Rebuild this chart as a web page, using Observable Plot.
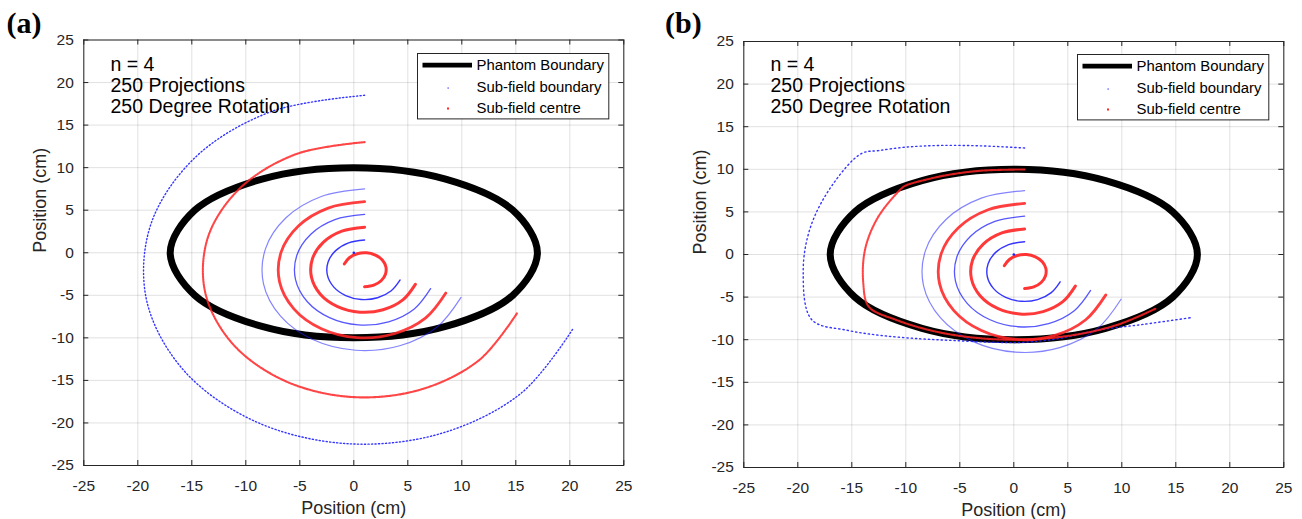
<!DOCTYPE html>
<html><head><meta charset="utf-8">
<script src="https://cdn.jsdelivr.net/npm/d3@7"></script>
<script src="https://cdn.jsdelivr.net/npm/@observablehq/plot@0.6"></script>
<style>
body{margin:0;background:#fff;}
#row{display:flex;width:1302px;height:519px;}
.panel{position:relative;width:651px;height:519px;flex:none;}
.panel svg{display:block;}
svg.legend{position:absolute;}
</style></head><body>
<div id="row"><div class="panel" id="pa"></div><div class="panel" id="pb"></div></div>
<script>
// ---- tick values & texts ----
const xTicks = [-25,-20,-15,-10,-5,0,5,10,15,20,25];
const yTicks = [-25,-20,-15,-10,-5,0,5,10,15,20,25];
const annotLines = ["n = 4", "250 Projections", "250 Degree Rotation"];
const legendLabels = ["Phantom Boundary", "Sub-field boundary", "Sub-field centre"];
const panelLabels = ["(a)", "(b)"];
const axisTitle = "Position (cm)";

// ---- phantom boundary (ellipse) points ----
const ellipsePts = [[17,0],[14.72,5],[8.5,8.66],[0,10],[-8.5,8.66],[-14.72,5],[-17,0],[-14.72,-5],[-8.5,-8.66],[0,-10],[8.5,-8.66],[14.72,-5]];

// ---- sub-field arcs (shared by both panels) ----
const redArc2   = [[-0.88,-1.32],[-0.41,-0.59],[0.32,-0.12],[1.17,-0.01],[2.0,-0.27],[2.64,-0.85],[2.97,-1.65],[2.93,-2.52],[2.53,-3.29],[1.85,-3.81],[1.0,-4.0]];
const blueArc35 = [[1,1.5],[-0.48,1.17],[-1.68,0.25],[-2.38,-1.09],[-2.45,-2.61],[-1.87,-4.01],[-0.75,-5.03],[0.69,-5.49],[2.2,-5.29],[3.47,-4.47],[4.29,-3.2]];
const redArc5   = [[1,3],[-1.11,2.53],[-2.83,1.21],[-3.83,-0.71],[-3.92,-2.87],[-3.1,-4.87],[-1.5,-6.33],[0.56,-6.98],[2.71,-6.7],[4.54,-5.54],[5.7,-3.71]];
const blueArc65 = [[1,4.5],[-1.75,3.89],[-3.98,2.18],[-5.28,-0.32],[-5.4,-3.13],[-4.32,-5.73],[-2.25,-7.63],[0.43,-8.48],[3.22,-8.11],[5.6,-6.6],[7.11,-4.22]];
const redArc8   = [[1,6],[-2.38,5.25],[-5.13,3.14],[-6.73,0.07],[-6.88,-3.39],[-5.55,-6.59],[-3,-8.93],[0.3,-9.97],[3.74,-9.52],[6.66,-7.66],[8.52,-4.74]];
const blueArc95 = [[1,7.5],[-3.01,6.61],[-6.28,4.11],[-8.18,0.46],[-8.36,-3.65],[-6.78,-7.45],[-3.75,-10.23],[0.17,-11.46],[4.25,-10.93],[7.72,-8.72],[9.93,-5.25]];
const blueMarks = [[0,0]];

// ---- outer arcs, panel (a) ----
const redArc15A   = [[1,13],[-5.34,11.59],[-10.49,7.64],[-13.49,1.88],[-13.77,-4.6],[-11.29,-10.6],[-6.5,-14.99],[-0.31,-16.94],[6.13,-16.1],[11.61,-12.61],[15.1,-7.13]];
const blueArc205A = [[1,18.5],[-7.66,16.58],[-14.7,11.18],[-18.8,3.31],[-19.19,-5.56],[-15.79,-13.76],[-9.25,-19.75],[-0.79,-22.42],[8.01,-21.26],[15.5,-16.5],[20.26,-9.01]];

// ---- outer arcs, panel (b) ----
const redOuterB  = [[1,9.98],[-3,9.84],[-6,9.36],[-8,8.82],[-10.03,8.08],[-10.49,7.64],[-12.59,4.34],[-13.77,0.6],[-13.94,-3.31],[-13.42,-6.13],[-10.93,-7.66],[-7.18,-9.06],[-2.95,-9.85],[1.48,-9.96],[5.81,-9.4],[9.75,-8.19],[13.12,-6.36]];
const blueOuterB = [[1,12.5],[-3,12.75],[-6.8,12.8],[-10,12.6],[-12.5,12.2],[-14.11,11.85],[-16.75,8.25],[-18.8,3.31],[-19.5,-2],[-18.71,-7.65],[-15.4,-8.9],[-12.3,-9.5],[-8.6,-9.9],[-5.5,-10.1],[-2,-10.3],[1,-10.3],[4.5,-9.8],[7.7,-8.9],[12,-8.2],[16.35,-7.42]];

const BLUE = "#1f1fff", RED = "#ff2424";
const FONT = "Liberation Sans, Arial, Helvetica, sans-serif";

function innerSeries() {
  return [
    {data: blueArc35, color: BLUE, w: 1.4, o: 0.9},
    {data: blueArc65, color: BLUE, w: 1.3, o: 0.75},
    {data: blueArc95, color: BLUE, w: 1.2, o: 0.55},
    {data: redArc2, color: RED, w: 3, o: 0.92},
    {data: redArc5, color: RED, w: 3, o: 0.9},
    {data: redArc8, color: RED, w: 2.8, o: 0.88}
  ];
}

function makePanel(el, P) {
  const W = 651, H = 519;
  const fw = W - P.ml - P.mr, fh = H - P.mt - P.mb;
  const X = d => d[0], Y = d => d[1];
  const marks = [
    Plot.gridX(xTicks, {stroke: "#000", strokeOpacity: 0.12}),
    Plot.gridY(yTicks, {stroke: "#000", strokeOpacity: 0.12}),
    Plot.line(ellipsePts, {x: X, y: Y, curve: "catmull-rom-closed", stroke: "#000", strokeWidth: 7})
  ];
  const blues = P.series.filter(s => s.color === BLUE), reds = P.series.filter(s => s.color === RED);
  for (const s of [...blues, ...reds]) {
    marks.push(Plot.line(s.data, {x: X, y: Y, curve: "catmull-rom", stroke: s.color, strokeWidth: s.w, strokeOpacity: s.o, strokeDasharray: s.dash}));
  }
  marks.push(Plot.dot(blueMarks, {x: X, y: Y, r: 1.3, fill: BLUE, stroke: null}));
  marks.push(Plot.frame({stroke: "#262626", strokeWidth: 1}));
  const tk = {stroke: "#262626", strokeWidth: 1};
  marks.push(
    Plot.ruleX(xTicks, {...tk, insetTop: fh - 5}),
    Plot.ruleX(xTicks, {...tk, insetBottom: fh - 5}),
    Plot.ruleY(yTicks, {...tk, insetRight: fw - 5}),
    Plot.ruleY(yTicks, {...tk, insetLeft: fw - 5})
  );
  marks.push(
    Plot.axisX({ticks: xTicks, anchor: "bottom", tickSize: 0, tickPadding: 14.2, fontSize: 15.5, tickFormat: d => String(d), label: null, fill: "#262626"}),
    Plot.axisY({ticks: yTicks, anchor: "left", tickSize: 0, tickPadding: 10, fontSize: 15.5, tickFormat: d => String(d), label: null, fill: "#262626"}),
    Plot.text([axisTitle], {text: d => d, frameAnchor: "bottom", dy: 48.5, lineAnchor: "bottom", fontSize: 18, fill: "#262626"}),
    Plot.text([axisTitle], {text: d => d, frameAnchor: "left", rotate: -90, dx: -38, lineAnchor: "bottom", fontSize: 18, fill: "#262626"}),
    Plot.text([annotLines.join("\n")], {text: d => d, frameAnchor: "top-left", textAnchor: "start", lineAnchor: "top", dx: 26.7, dy: P.mt === 39.5 ? 15.7 : 14.2, fontSize: 19.5, lineHeight: 1.077, fill: "#000"}),
    Plot.text([P.label], {text: d => d, frameAnchor: "top-left", textAnchor: "start", lineAnchor: "bottom", dx: P.labelDx, dy: P.labelDy, fontSize: 30, fontWeight: "bold", fontFamily: "Liberation Serif, Times New Roman, serif", fill: "#000"})
  );
  const svg = Plot.plot({
    width: W, height: H,
    marginLeft: P.ml, marginRight: P.mr, marginTop: P.mt, marginBottom: P.mb,
    x: {domain: [-25, 25]}, y: {domain: [-25, 25]},
    style: {fontFamily: FONT, fontSize: "15px", background: "transparent", color: "#262626"},
    marks
  });
  el.appendChild(svg);
  // legend box
  const L = P.ml + 334.4, T = P.mt + 13.8;
  el.insertAdjacentHTML("beforeend",
    `<svg class="legend" width="194" height="68" style="left:${L - 0.5}px;top:${T - 0.5}px;font-family:${FONT};font-size:14.9px">
      <rect x="0.5" y="0.5" width="191.3" height="65.4" fill="#fff" stroke="#262626" stroke-width="1"/>
      <line x1="5.5" x2="55" y1="12.2" y2="12.2" stroke="#000" stroke-width="4.7"/>
      <rect x="30.5" y="34.4" width="1.3" height="1.3" fill="${BLUE}" fill-opacity="0.8"/>
      <rect x="30" y="54.5" width="2" height="2" fill="${RED}"/>
      <text x="59.5" y="16.6" fill="#000">${legendLabels[0]}</text>
      <text x="59.5" y="39" fill="#000">${legendLabels[1]}</text>
      <text x="59.5" y="60" fill="#000">${legendLabels[2]}</text>
    </svg>`);
}

makePanel(document.getElementById("pa"), {
  ml: 83.3, mr: 27.7, mt: 39.5, mb: 54, label: panelLabels[0], labelDx: -77.4, labelDy: -6.8,
  series: [
    ...innerSeries(),
    {data: blueArc205A, color: BLUE, w: 1.4, o: 0.9, dash: "1.2,2.3"},
    {data: redArc15A, color: RED, w: 2.1, o: 0.85, dash: "1.5,1.1"}
  ]
});
makePanel(document.getElementById("pb"), {
  ml: 92.3, mr: 18.7, mt: 41, mb: 52, label: panelLabels[1], labelDx: -78.7, labelDy: -8.3,
  series: [
    ...innerSeries(),
    {data: blueOuterB, color: BLUE, w: 1.4, o: 0.9, dash: "1.3,3"},
    {data: redOuterB, color: RED, w: 2.1, o: 0.85, dash: "1.5,1.1"}
  ]
});
</script>
</body></html>
